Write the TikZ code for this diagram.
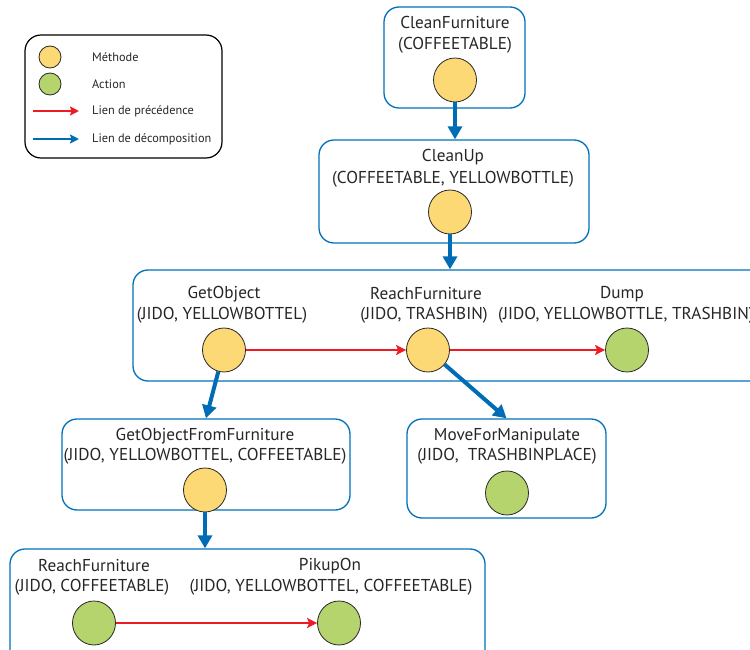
\documentclass[tikz,border=0pt]{standalone}
\usepackage{fontspec}
\setmainfont{PT Sans}
\usetikzlibrary{arrows.meta,shapes.geometric}
\definecolor{boxblue}{RGB}{0,114,188}
\definecolor{arrblue}{RGB}{0,108,182}
\definecolor{arrred}{RGB}{237,28,36}
\definecolor{methfill}{RGB}{253,217,118}
\definecolor{actfill}{RGB}{182,212,110}
\definecolor{circdraw}{RGB}{40,40,40}
\tikzset{
  box/.style={draw=boxblue, line width=1.3pt, rounded corners=15pt, rectangle, inner sep=0pt},
  meth/.style={ellipse, draw=circdraw, line width=0.8pt, fill=methfill, minimum width=43pt, minimum height=44pt, inner sep=0pt},
  act/.style={ellipse, draw=circdraw, line width=0.8pt, fill=actfill, minimum width=43pt, minimum height=44pt, inner sep=0pt},
  lbl/.style={font=\fontsize{17.2}{19}\selectfont, text=black!85, inner sep=0pt},
  leglbl/.style={font=\fontsize{12.3}{14}\selectfont, text=black!85, inner sep=0pt, anchor=west},
  decomp/.style={draw=arrblue, line width=4pt, -{Triangle[length=13pt,width=14pt]}},
  prec/.style={draw=arrred, line width=2pt, -{Stealth[length=10pt,width=10pt,inset=2pt]}},
}
\begin{document}
\begin{tikzpicture}[x=1pt,y=-1pt]
\useasboundingbox (0,0) rectangle (750,650);
\clip (0,0) rectangle (750,650);
% legend
\node[draw=black, line width=1.2pt, rounded corners=16pt, minimum width=197pt, minimum height=123pt, inner sep=0pt] (leg) at (123.5,96.5) {};
\node[meth, minimum width=22pt, minimum height=22pt] (lm) at (50,57) {};
\node[act, minimum width=22pt, minimum height=22pt] (la) at (50,84) {};
\node[leglbl] (lmt) at (92,57) {Méthode};
\node[leglbl] (lat) at (92,84) {Action};
\coordinate (lr1) at (33,111); \coordinate (lr2) at (79,111);
\coordinate (lb1) at (33,139); \coordinate (lb2) at (79,139);
\draw[draw=arrred, line width=2pt, -{Stealth[length=9pt,width=9pt,inset=1.5pt]}] (lr1) -- (lr2);
\draw[draw=arrblue, line width=2pt, -{Stealth[length=9pt,width=9pt,inset=1.5pt]}] (lb1) -- (lb2);
\node[leglbl] (lrt) at (92,111) {Lien de précédence};
\node[leglbl] (lbt) at (92,139) {Lien de décomposition};
% box 1
\node[box, minimum width=141pt, minimum height=101pt] (b1) at (454.5,57.5) {};
\node[lbl] (t1) at (455,22) {CleanFurniture};
\node[lbl] (a1) at (455,45) {(COFFEETABLE)};
\node[meth] (c1) at (455,80) {};
% box 2
\node[box, minimum width=270pt, minimum height=103pt] (b2) at (454,191.5) {};
\node[lbl] (t2) at (453,157) {CleanUp};
\node[lbl] (a2) at (453,179) {(COFFEETABLE, YELLOWBOTTLE)};
\node[meth] (c2) at (450,212) {};
% box 3
\node[box, minimum width=647pt, minimum height=111pt] (b3) at (456.5,325.5) {};
\node[lbl] (t3a) at (224,294) {GetObject};
\node[lbl] (a3a) at (222,315) {(JIDO, YELLOWBOTTEL)};
\node[meth] (go) at (224,350) {};
\node[lbl] (t3b) at (426,294) {ReachFurniture};
\node[lbl] (a3b) at (424,315) {(JIDO, TRASHBIN)};
\node[meth] (rf) at (428,350) {};
\node[lbl] (t3c) at (622,294) {Dump};
\node[lbl, anchor=west] (a3c) at (498,315) {(JIDO, YELLOWBOTTLE, TRASHBIN)};
\node[act] (du) at (627,350) {};
% box 4
\node[box, minimum width=288pt, minimum height=91pt] (b4) at (206,464.5) {};
\node[lbl] (t4) at (205,436) {GetObjectFromFurniture};
\node[lbl] (a4) at (205,456) {(JIDO, YELLOWBOTTEL, COFFEETABLE)};
\node[meth] (c4) at (205,490) {};
% box 5
\node[box, minimum width=199pt, minimum height=99pt] (b5) at (506.5,468.5) {};
\node[lbl] (t5) at (507,436) {MoveForManipulate};
\node[lbl] (a5) at (507,456) {(JIDO,~~TRASHBINPLACE)};
\node[act] (c5) at (507,493) {};
% box 6
\node[box, minimum width=475pt, minimum height=131pt] (b6) at (247.5,614.5) {};
\node[lbl] (t6a) at (94,566) {ReachFurniture};
\node[lbl] (a6a) at (92,587) {(JIDO, COFFEETABLE)};
\node[act] (r6) at (94,623) {};
\node[lbl] (t6b) at (330,566) {PikupOn};
\node[lbl] (a6b) at (331,587) {(JIDO, YELLOWBOTTEL, COFFEETABLE)};
\node[act] (p6) at (339,623) {};
% decomposition arrows
\draw[decomp] (c1.south) -- (c1.south |- b2.north);
\draw[decomp] (c2.south) -- (c2.south |- b3.north);
\draw[decomp] (go) -- (b4.north);
\draw[decomp] (rf) -- (b5.north);
\draw[decomp] (c4.south) -- (c4.south |- b6.north);
% precedence arrows
\draw[prec] (go) -- (rf);
\draw[prec] (rf) -- (du);
\draw[prec] (r6) -- (p6);
\end{tikzpicture}
\end{document}
